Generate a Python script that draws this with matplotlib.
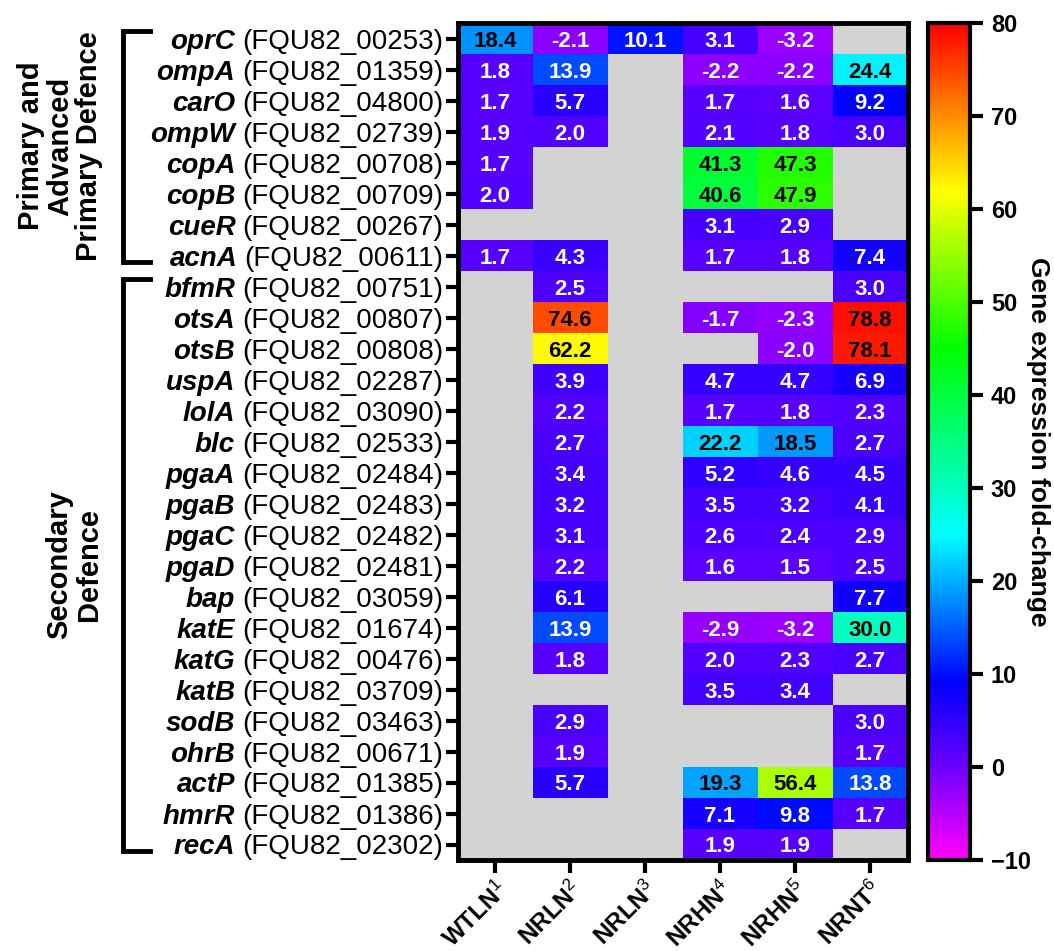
import numpy as np
import matplotlib
matplotlib.use("Agg")
import matplotlib.pyplot as plt
from matplotlib.colors import LinearSegmentedColormap, Normalize

plt.rcParams['font.family'] = ['Liberation Sans', 'DejaVu Sans']
plt.rcParams['mathtext.fontset'] = 'custom'
plt.rcParams['mathtext.rm'] = 'Liberation Sans'
plt.rcParams['mathtext.it'] = 'Liberation Sans:italic'
plt.rcParams['mathtext.bf'] = 'Liberation Sans:bold'

genes = ["oprC", "ompA", "carO", "ompW", "copA", "copB", "cueR", "acnA",
         "bfmR", "otsA", "otsB", "uspA", "lolA", "blc", "pgaA", "pgaB",
         "pgaC", "pgaD", "bap", "katE", "katG", "katB", "sodB", "ohrB",
         "actP", "hmrR", "recA"]
locus = ["FQU82_00253", "FQU82_01359", "FQU82_04800", "FQU82_02739",
         "FQU82_00708", "FQU82_00709", "FQU82_00267", "FQU82_00611",
         "FQU82_00751", "FQU82_00807", "FQU82_00808", "FQU82_02287",
         "FQU82_03090", "FQU82_02533", "FQU82_02484", "FQU82_02483",
         "FQU82_02482", "FQU82_02481", "FQU82_03059", "FQU82_01674",
         "FQU82_00476", "FQU82_03709", "FQU82_03463", "FQU82_00671",
         "FQU82_01385", "FQU82_01386", "FQU82_02302"]
conditions = ["WTLN", "NRLN", "NRLN", "NRHN", "NRHN", "NRNT"]
superscripts = ["1", "2", "3", "4", "5", "6"]

n = np.nan
WTLN1 = [18.4, 1.8, 1.7, 1.9, 1.7, 2.0, n, 1.7, n, n, n, n, n, n, n, n, n, n, n, n, n, n, n, n, n, n, n]
NRLN2 = [-2.1, 13.9, 5.7, 2.0, n, n, n, 4.3, 2.5, 74.6, 62.2, 3.9, 2.2, 2.7, 3.4, 3.2, 3.1, 2.2, 6.1, 13.9, 1.8, n, 2.9, 1.9, 5.7, n, n]
NRLN3 = [10.1, n, n, n, n, n, n, n, n, n, n, n, n, n, n, n, n, n, n, n, n, n, n, n, n, n, n]
NRHN4 = [3.1, -2.2, 1.7, 2.1, 41.3, 40.6, 3.1, 1.7, n, -1.7, n, 4.7, 1.7, 22.2, 5.2, 3.5, 2.6, 1.6, n, -2.9, 2.0, 3.5, n, n, 19.3, 7.1, 1.9]
NRHN5 = [-3.2, -2.2, 1.6, 1.8, 47.3, 47.9, 2.9, 1.8, n, -2.3, -2.0, 4.7, 1.8, 18.5, 4.6, 3.2, 2.4, 1.5, n, -3.2, 2.3, 3.4, n, n, 56.4, 9.8, 1.9]
NRNT6 = [n, 24.4, 9.2, 3.0, n, n, n, 7.4, 3.0, 78.8, 78.1, 6.9, 2.3, 2.7, 4.5, 4.1, 2.9, 2.5, 7.7, 30.0, 2.7, n, 3.0, 1.7, 13.8, 1.7, n]

groups = ["Primary and\nAdvanced\nPrimary Defence", "Secondary\nDefence"]
group_rows = [(0, 7), (8, 26)]
cbar_label = "Gene expression fold-change"
vmin, vmax = -10, 80

data = np.array([WTLN1, NRLN2, NRLN3, NRHN4, NRHN5, NRNT6], dtype=float).T
masked = np.ma.masked_invalid(data)

stops = [(-10, "#FF00FF"), (0, "#6A00FF"), (9, "#0000FF"), (25, "#00FFFF"),
         (45, "#00FF00"), (62, "#FFFF00"), (80, "#FF0000")]
cmap = LinearSegmentedColormap.from_list(
    "gp", [((v - vmin) / (vmax - vmin), c) for v, c in stops])
cmap.set_bad("#D3D3D3")
norm = Normalize(vmin=vmin, vmax=vmax)

W, H = 1054, 951
fig = plt.figure(figsize=(W / 100, H / 100), dpi=100)
ax = fig.add_axes([457.5 / W, 1 - 860 / H, 450 / W, 837 / H])
cax = fig.add_axes([928 / W, 1 - 860 / H, 42 / W, 837 / H])

nr, nc = data.shape
im = ax.pcolormesh(np.arange(nc + 1) - 0.5, np.arange(nr + 1) - 0.5, masked,
                   cmap=cmap, norm=norm)
ax.set_facecolor("#D3D3D3")
ax.set_xlim(-0.5, nc - 0.5)
ax.set_ylim(nr - 0.5, -0.5)

for i in range(nr):
    for j in range(nc):
        v = data[i, j]
        if np.isnan(v):
            continue
        col = "black" if v > 15 else "white"
        ax.text(j, i, f"{v:.1f}", ha="center", va="center_baseline",
                fontsize=16, fontweight="bold", color=col)

ax.set_yticks(np.arange(nr))
ax.set_yticklabels([""] * nr)
ax.set_xticks(np.arange(nc))
ax.set_xticklabels([f"{c}$^{{{s}}}$" for c, s in zip(conditions, superscripts)],
                   rotation=45, ha="right", rotation_mode="anchor",
                   fontsize=17.5, fontweight="bold")
ax.tick_params(axis="both", length=9, width=3, direction="out", pad=4)
ax.tick_params(axis="x", pad=3)
for s in ax.spines.values():
    s.set_linewidth(3.5)

ytrans = ax.get_yaxis_transform()
for i in range(nr):
    t = ax.text(-0.032, i, f"({locus[i]})", transform=ytrans, ha="right",
                va="center_baseline", fontsize=20)
    ax.annotate(genes[i], xy=(0, i), xycoords=(t, ax.transData),
                xytext=(-5, 0), textcoords="offset points", ha="right",
                va="center_baseline", fontsize=20, fontweight="bold",
                fontstyle="italic", annotation_clip=False)

# brackets and group labels
bx0, bx1 = 123 / W, 150 / W
row_c = lambda r: 23 + 31 * (r + 0.5)
for (r0, r1), label, lx in zip(group_rows, groups, [60, 74]):
    ytop = 1 - (row_c(r0) - 8) / H
    ybot = 1 - (row_c(r1) + 6) / H
    fig.add_artist(plt.Line2D([bx1, bx0, bx0, bx1], [ytop, ytop, ybot, ybot],
                              color="black", lw=3.5, transform=fig.transFigure,
                              solid_joinstyle="miter"))
    yc = (ytop + ybot) / 2
    fig.text(lx / W, yc, label, rotation=90, ha="center", va="center",
             multialignment="center", fontsize=21, fontweight="bold",
             linespacing=1.05)

cb = fig.colorbar(im, cax=cax, ticks=np.arange(-10, 81, 10))
cb.outline.set_linewidth(3)
cax.tick_params(length=9, width=3, labelsize=17, pad=6)
for lab in cax.get_yticklabels():
    lab.set_fontweight("bold")
cb.set_label(cbar_label, rotation=270, fontsize=19, fontweight="bold",
             labelpad=14)

fig.savefig("out.png", dpi=100)
